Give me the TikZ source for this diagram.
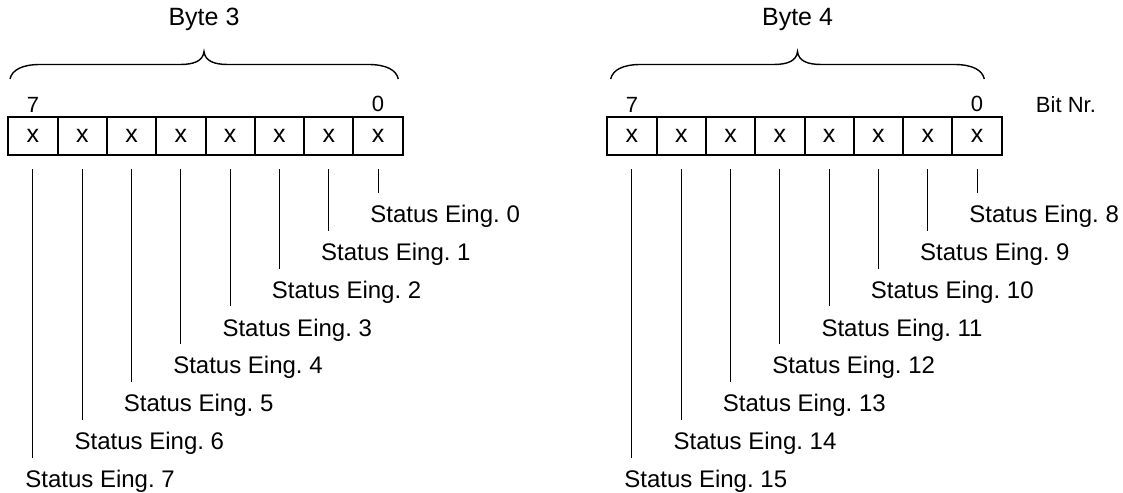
\documentclass[tikz,border=0pt]{standalone}
\usepackage{fontspec}
\setmainfont{Liberation Sans}
\usetikzlibrary{positioning, calc}
\frenchspacing

\begin{document}
\begin{tikzpicture}[
    x=0.5pt, y=-0.5pt,
    cell/.style={rectangle, draw=black, line width=1pt, minimum width=24.65pt, minimum height=19.25pt, inner sep=0pt, font=\fontsize{12.5}{14}\selectfont},
    bitnum/.style={inner sep=0pt, font=\fontsize{11}{13}\selectfont},
    status/.style={anchor=north west, inner xsep=0pt, inner ysep=6pt, text height=8.6pt, font=\fontsize{12}{14}\selectfont},
    bytetitle/.style={inner sep=0pt, font=\fontsize{12.5}{14}\selectfont},
    lead/.style={line width=0.5pt, draw=black},
    brace/.style={line width=0.7pt, draw=black}
]
\useasboundingbox (0,0) rectangle (1123,492);

% bit cells with their status lines
\foreach \b/\off in {3/0, 4/599} {
  \foreach \k in {0,...,7} {
    \pgfmathsetmacro{\cx}{32.95+\off+49.3*(7-\k)}
    \pgfmathsetmacro{\ly}{192.7+37.9*\k}
    \pgfmathtruncatemacro{\n}{8*(\b-3)+\k}
    \node[cell] (c\b-\k) at (\cx,135.8) {x};
    \node[status] (s\b-\k) at (\cx-8,\ly) {Status Eing. \n};
    \draw[lead] ([yshift=-6.5pt]c\b-\k.south) -- (c\b-\k.south |- s\b-\k.north);
  }
  \node[bitnum, above=1.5pt of c\b-7] (hi\b) {7};
  \node[bitnum, above=1.5pt of c\b-0] (lo\b) {0};
}
\node[bitnum, right=26pt of lo4] (bitnr) {Bit Nr.};

% braces and byte titles
\foreach \b/\l/\m/\r in {3/10/204/398.3, 4/610.7/797.5/984.3} {
  \draw[brace] (\l,79) .. controls (\l+2,70) and (\l+12,64.5) .. (\l+30,64.5)
    -- (\m-24,64.5) .. controls (\m-10,64.5) and (\m-1,61) .. (\m,51.5)
    .. controls (\m+1,61) and (\m+10,64.5) .. (\m+24,64.5)
    -- (\r-30,64.5) .. controls (\r-12,64.5) and (\r-2,70) .. (\r,79);
  \node[bytetitle] (t\b) at (\m,19.5) {Byte \b};
}
\end{tikzpicture}
\end{document}
